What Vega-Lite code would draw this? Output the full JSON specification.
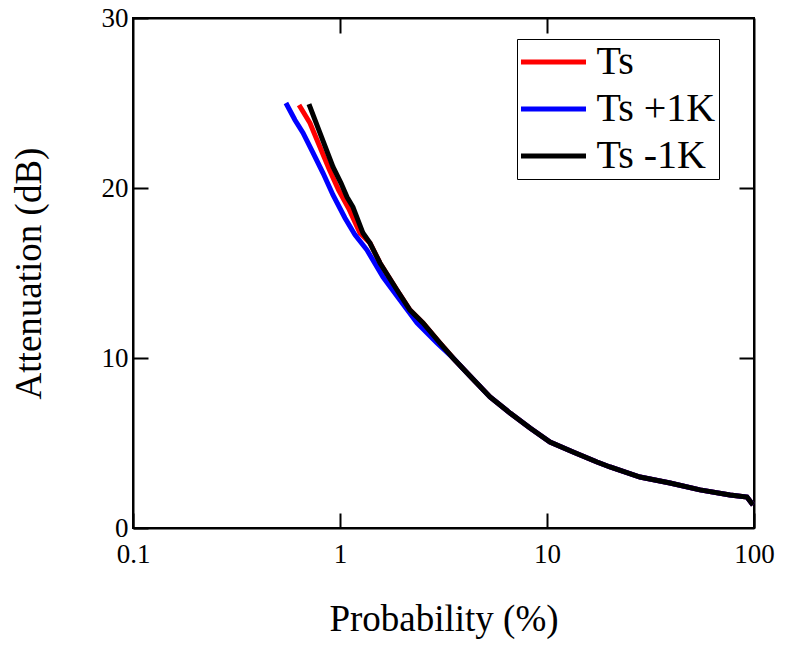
{
  "$schema": "https://vega.github.io/schema/vega-lite/v6.json",
  "width": 621,
  "height": 510,
  "autosize": "none",
  "padding": {"left": 133, "top": 18, "right": 33, "bottom": 121},
  "background": "white",
  "config": {
    "view": {"stroke": "black", "strokeWidth": 2},
    "font": "Liberation Serif"
  },
  "data": {
    "values": [
      {"series": "Ts", "p": 0.634, "a": 24.88},
      {"series": "Ts", "p": 0.716, "a": 23.82},
      {"series": "Ts", "p": 0.800, "a": 22.41},
      {"series": "Ts", "p": 0.890, "a": 21.06},
      {"series": "Ts", "p": 0.985, "a": 19.88},
      {"series": "Ts", "p": 1.110, "a": 18.71},
      {"series": "Ts", "p": 1.249, "a": 17.35},
      {"series": "Ts", "p": 1.396, "a": 16.76},
      {"series": "Ts", "p": 1.560, "a": 15.59},
      {"series": "Ts", "p": 1.885, "a": 14.0},
      {"series": "Ts", "p": 2.178, "a": 12.82},
      {"series": "Ts", "p": 2.517, "a": 12.06},
      {"series": "Ts", "p": 3.042, "a": 10.88},
      {"series": "Ts", "p": 3.515, "a": 10.0},
      {"series": "Ts", "p": 4.246, "a": 8.94},
      {"series": "Ts", "p": 5.305, "a": 7.71},
      {"series": "Ts", "p": 6.627, "a": 6.76},
      {"series": "Ts", "p": 8.277, "a": 5.88},
      {"series": "Ts", "p": 10.34, "a": 5.06},
      {"series": "Ts", "p": 13.36, "a": 4.47},
      {"series": "Ts", "p": 17.44, "a": 3.88},
      {"series": "Ts", "p": 20.15, "a": 3.59},
      {"series": "Ts", "p": 28.13, "a": 3.0},
      {"series": "Ts", "p": 39.28, "a": 2.65},
      {"series": "Ts", "p": 54.83, "a": 2.24},
      {"series": "Ts", "p": 76.56, "a": 1.94},
      {"series": "Ts", "p": 92.5, "a": 1.82},
      {"series": "Ts", "p": 98.9, "a": 1.35},
      {"series": "Ts +1K", "p": 0.548, "a": 25.0},
      {"series": "Ts +1K", "p": 0.606, "a": 24.0},
      {"series": "Ts +1K", "p": 0.663, "a": 23.24},
      {"series": "Ts +1K", "p": 0.741, "a": 22.06},
      {"series": "Ts +1K", "p": 0.828, "a": 20.88},
      {"series": "Ts +1K", "p": 0.925, "a": 19.59},
      {"series": "Ts +1K", "p": 1.057, "a": 18.24},
      {"series": "Ts +1K", "p": 1.182, "a": 17.24},
      {"series": "Ts +1K", "p": 1.350, "a": 16.35},
      {"series": "Ts +1K", "p": 1.614, "a": 14.76},
      {"series": "Ts +1K", "p": 1.949, "a": 13.41},
      {"series": "Ts +1K", "p": 2.355, "a": 12.06},
      {"series": "Ts +1K", "p": 2.942, "a": 10.88},
      {"series": "Ts +1K", "p": 3.515, "a": 10.0},
      {"series": "Ts +1K", "p": 4.246, "a": 8.94},
      {"series": "Ts +1K", "p": 5.305, "a": 7.71},
      {"series": "Ts +1K", "p": 6.627, "a": 6.76},
      {"series": "Ts +1K", "p": 8.277, "a": 5.88},
      {"series": "Ts +1K", "p": 10.34, "a": 5.06},
      {"series": "Ts +1K", "p": 13.36, "a": 4.47},
      {"series": "Ts +1K", "p": 17.44, "a": 3.88},
      {"series": "Ts +1K", "p": 20.15, "a": 3.59},
      {"series": "Ts +1K", "p": 28.13, "a": 3.0},
      {"series": "Ts +1K", "p": 39.28, "a": 2.65},
      {"series": "Ts +1K", "p": 54.83, "a": 2.24},
      {"series": "Ts +1K", "p": 76.56, "a": 1.94},
      {"series": "Ts +1K", "p": 92.5, "a": 1.82},
      {"series": "Ts +1K", "p": 98.9, "a": 1.35},
      {"series": "Ts -1K", "p": 0.708, "a": 24.94},
      {"series": "Ts -1K", "p": 0.800, "a": 23.24},
      {"series": "Ts -1K", "p": 0.925, "a": 21.24},
      {"series": "Ts -1K", "p": 1.011, "a": 20.29},
      {"series": "Ts -1K", "p": 1.081, "a": 19.47},
      {"series": "Ts -1K", "p": 1.155, "a": 18.88},
      {"series": "Ts -1K", "p": 1.291, "a": 17.35},
      {"series": "Ts -1K", "p": 1.396, "a": 16.76},
      {"series": "Ts -1K", "p": 1.560, "a": 15.59},
      {"series": "Ts -1K", "p": 1.885, "a": 14.0},
      {"series": "Ts -1K", "p": 2.178, "a": 12.82},
      {"series": "Ts -1K", "p": 2.517, "a": 12.06},
      {"series": "Ts -1K", "p": 3.042, "a": 10.88},
      {"series": "Ts -1K", "p": 3.515, "a": 10.0},
      {"series": "Ts -1K", "p": 4.246, "a": 8.94},
      {"series": "Ts -1K", "p": 5.305, "a": 7.71},
      {"series": "Ts -1K", "p": 6.627, "a": 6.76},
      {"series": "Ts -1K", "p": 8.277, "a": 5.88},
      {"series": "Ts -1K", "p": 10.34, "a": 5.06},
      {"series": "Ts -1K", "p": 13.36, "a": 4.47},
      {"series": "Ts -1K", "p": 17.44, "a": 3.88},
      {"series": "Ts -1K", "p": 20.15, "a": 3.59},
      {"series": "Ts -1K", "p": 28.13, "a": 3.0},
      {"series": "Ts -1K", "p": 39.28, "a": 2.65},
      {"series": "Ts -1K", "p": 54.83, "a": 2.24},
      {"series": "Ts -1K", "p": 76.56, "a": 1.94},
      {"series": "Ts -1K", "p": 92.5, "a": 1.82},
      {"series": "Ts -1K", "p": 98.9, "a": 1.35}
    ]
  },
  "encoding": {
    "color": {
      "field": "series", "type": "nominal",
      "scale": {"domain": ["Ts", "Ts +1K", "Ts -1K"], "range": ["#ff0000", "#0000ff", "#000000"]},
      "legend": {
        "title": null, "orient": "none", "legendX": 384, "legendY": 21,
        "symbolType": "M-1.912,0H1.912", "symbolStrokeWidth": 5, "symbolSize": 1156,
        "symbolOffset": 13.5, "symbolFillColor": "transparent",
        "labelFont": "Liberation Serif", "labelFontSize": 40, "labelColor": "black",
        "labelExpr": "datum.label + '\u00a0'",
        "labelOffset": 23, "rowPadding": 7, "padding": 3,
        "strokeColor": "black", "fillColor": "white"
      }
    }
  },
  "layer": [
    {
      "transform": [{"filter": "datum.series === 'Ts'"}],
      "mark": {"type": "line", "strokeWidth": 5},
      "encoding": {
        "x": {
          "field": "p", "type": "quantitative",
          "scale": {"type": "log", "domain": [0.1, 100], "nice": false},
          "axis": {
            "title": "Probability (%)", "titleFontSize": 37, "titleFontWeight": "normal",
            "titleColor": "black", "titlePadding": 34, "titleFont": "Liberation Serif",
            "values": [0.1, 1, 10, 100], "format": "~g",
            "labelFontSize": 27, "labelColor": "black", "labelFont": "Liberation Serif",
            "labelPadding": 28, "labelDx": 6, "labelFlush": false,
            "tickSize": -15, "tickColor": "black", "tickWidth": 2,
            "domainColor": "black", "domainWidth": 2, "grid": false
          }
        },
        "y": {
          "field": "a", "type": "quantitative",
          "scale": {"domain": [0, 30], "nice": false},
          "axis": {
            "title": "Attenuation (dB)", "titleFontSize": 37, "titleFontWeight": "normal",
            "titleColor": "black", "titlePadding": 53, "titleFont": "Liberation Serif",
            "values": [0, 10, 20, 30],
            "labelFontSize": 27, "labelColor": "black", "labelFont": "Liberation Serif",
            "labelPadding": 20, "labelDy": 2, "labelFlush": false,
            "tickSize": -15, "tickColor": "black", "tickWidth": 2,
            "domainColor": "black", "domainWidth": 2, "grid": false
          }
        }
      }
    },
    {
      "transform": [{"filter": "datum.series === 'Ts +1K'"}],
      "mark": {"type": "line", "strokeWidth": 5},
      "encoding": {
        "x": {"field": "p", "type": "quantitative", "axis": null},
        "y": {"field": "a", "type": "quantitative", "axis": null}
      }
    },
    {
      "transform": [{"filter": "datum.series === 'Ts -1K'"}],
      "mark": {"type": "line", "strokeWidth": 5},
      "encoding": {
        "x": {"field": "p", "type": "quantitative", "axis": null},
        "y": {"field": "a", "type": "quantitative", "axis": null}
      }
    },
    {
      "mark": {"type": "line", "opacity": 0},
      "encoding": {
        "x": {
          "field": "p", "type": "quantitative",
          "axis": {"orient": "top", "title": null, "labels": false, "values": [1, 10],
            "tickSize": -15, "tickColor": "black", "tickWidth": 2,
            "domainColor": "black", "domainWidth": 2, "grid": false}
        },
        "y": {
          "field": "a", "type": "quantitative",
          "axis": {"orient": "right", "title": null, "labels": false, "values": [10, 20],
            "tickSize": -15, "tickColor": "black", "tickWidth": 2,
            "domainColor": "black", "domainWidth": 2, "grid": false}
        }
      }
    }
  ],
  "resolve": {"axis": {"x": "independent", "y": "independent"}}
}
